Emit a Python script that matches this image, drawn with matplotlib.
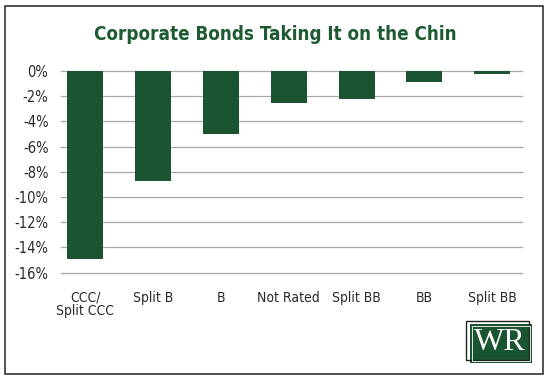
import matplotlib
matplotlib.use("Agg")
import matplotlib.pyplot as plt
from matplotlib.patches import Rectangle
from matplotlib.ticker import FuncFormatter

categories = ["CCC/\nSplit CCC", "Split B", "B", "Not Rated", "Split BB", "BB", "Split BB"]
values = [-14.9, -8.7, -5.0, -2.5, -2.2, -0.9, -0.2]
yticks = [0, -2, -4, -6, -8, -10, -12, -14, -16]
title = "Corporate Bonds Taking It on the Chin"

GREEN = "#1b5430"
TITLE_GREEN = "#1e5a32"
W, H = 550, 380

fig = plt.figure(figsize=(5.5, 3.8), dpi=100)
fig.patch.set_facecolor("white")

def fx(x):
    return x / W

def fy(y):
    return 1 - y / H

ax = fig.add_axes([fx(61), fy(272.7), fx(522) - fx(61), fy(71) - fy(272.7)])
x = list(range(len(categories)))
ax.bar(x, values, width=0.53, color=GREEN, zorder=3)
ax.set_xlim(-0.36, 6.44)
ax.set_ylim(-16, 0)
ax.set_yticks(yticks)
ax.yaxis.set_major_formatter(FuncFormatter(lambda v, p: f"{int(round(v))}%"))
ax.set_xticks(x)
ax.set_xticklabels(categories)
ax.grid(axis="y", color="#a8a8a8", linewidth=0.9, zorder=0)
ax.grid(axis="x", visible=False)
for gl in ax.get_ygridlines():
    gl.set_clip_on(False)
for s in ax.spines.values():
    s.set_visible(False)
ax.tick_params(axis="both", length=0, colors="#2a2a2a")
ax.tick_params(axis="y", pad=9, labelsize=10.5)
ax.tick_params(axis="x", pad=13, labelsize=10)
for lab in ax.get_xticklabels() + ax.get_yticklabels():
    lab.set_fontstretch("condensed")
    lab.set_linespacing(0.95)

fig.text(0.5, fy(35), title, ha="center", va="center", fontsize=13.5,
         fontweight="bold", color=TITLE_GREEN, fontstretch="condensed")

# outer frame
fig.add_artist(Rectangle((fx(5), fy(374)), fx(543) - fx(5), fy(6) - fy(374),
                         transform=fig.transFigure, fill=False,
                         edgecolor="#333333", linewidth=1.2))

# logo
fig.add_artist(Rectangle((fx(469.5), fy(363)), fx(532) - fx(469.5), fy(324) - fy(363),
                         transform=fig.transFigure, facecolor=GREEN, edgecolor="none"))
fig.add_artist(Rectangle((fx(466), fy(360)), fx(529) - fx(466), fy(321) - fy(360),
                         transform=fig.transFigure, fill=False,
                         edgecolor="#222222", linewidth=1.0))
fig.add_artist(Rectangle((fx(471.5), fy(361)), fx(530) - fx(471.5), fy(326) - fy(361),
                         transform=fig.transFigure, fill=False,
                         edgecolor="white", linewidth=0.6))
fig.text(fx(500), fy(343), "WR", ha="center", va="center", fontsize=23,
         family="Liberation Serif", color="white")

fig.savefig("out.png", dpi=100)
